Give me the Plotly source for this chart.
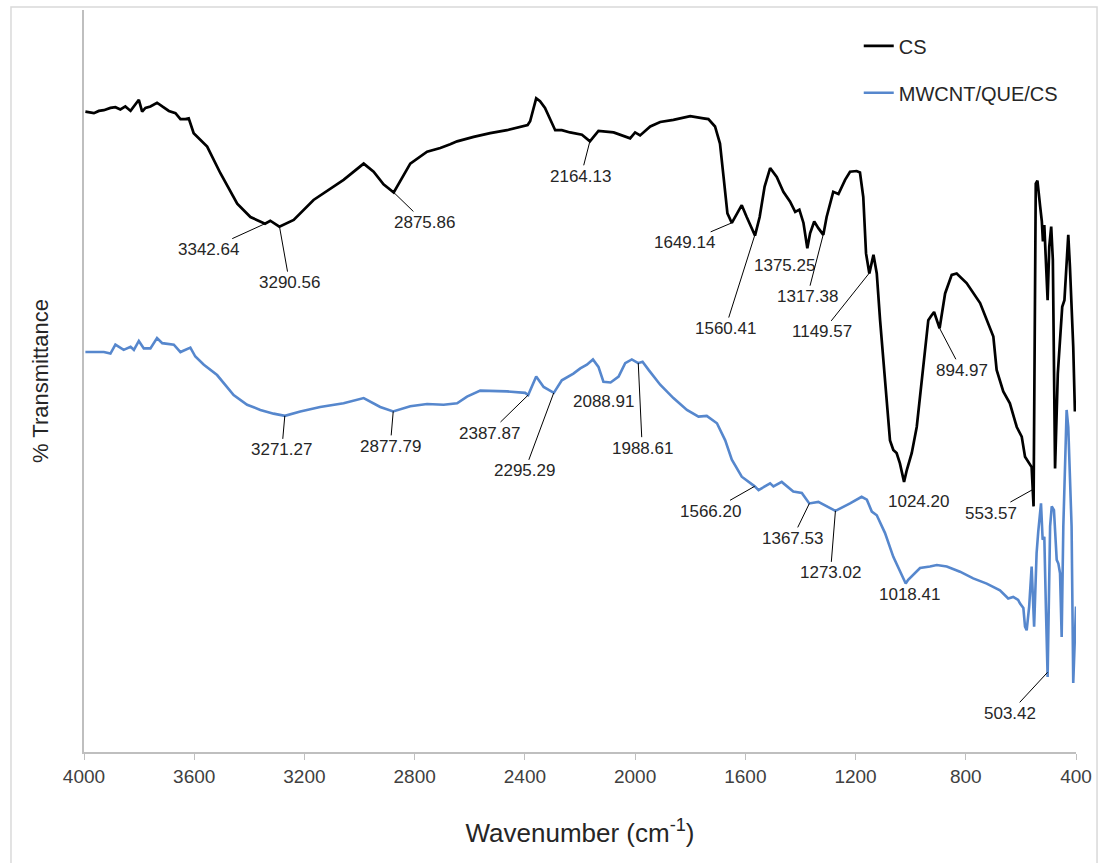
import numpy as np
import plotly.graph_objects as go

# ---------------- data ----------------
cs_wavenumber = [3995, 3964, 3946, 3928, 3904, 3886, 3868, 3850, 3831, 3815, 3801, 3789, 3777, 3759,
                 3735, 3716, 3692, 3668, 3650, 3632, 3620, 3602, 3553, 3505, 3444, 3396, 3343, 3324,
                 3291, 3239, 3167, 3058, 2985, 2949, 2913, 2876, 2816, 2755, 2707, 2671, 2646, 2586,
                 2526, 2465, 2417, 2390, 2381, 2359, 2345, 2327, 2290, 2266, 2236, 2193, 2164, 2133,
                 2078, 2018, 2000, 1982, 1945, 1909, 1861, 1800, 1752, 1734, 1710, 1692, 1679, 1665,
                 1649, 1641, 1613, 1595, 1565, 1548, 1530, 1510, 1486, 1462, 1438, 1419, 1404, 1389,
                 1375, 1365, 1350, 1335, 1317, 1305, 1281, 1262, 1238, 1220, 1196, 1184, 1172, 1162,
                 1150, 1135, 1123, 1111, 1099, 1087, 1075, 1063, 1051, 1039, 1024, 1014, 996, 978,
                 966, 954, 936, 927, 915, 895, 875, 851, 833, 797, 748, 700, 688, 664, 640, 615, 597,
                 585, 573, 561, 554, 546, 540, 534, 530, 524, 520, 515, 509, 503, 497, 490, 484, 476,
                 466, 457, 450, 442, 428, 422, 410, 404]
cs_transmittance = [86.3, 86.1, 86.4, 86.5, 86.8, 86.9, 86.6, 87.0, 86.4, 87.2, 87.9, 86.3, 86.8, 87.0,
                    87.5, 87.0, 86.4, 86.1, 85.3, 85.3, 85.4, 83.4, 81.6, 78.0, 73.9, 72.1, 71.2, 71.6,
                    70.8, 71.7, 74.4, 77.1, 79.3, 78.2, 76.5, 75.4, 79.3, 80.9, 81.4, 81.9, 82.3, 82.9,
                    83.4, 83.8, 84.3, 84.5, 85.0, 88.1, 87.7, 86.8, 83.8, 83.8, 83.5, 83.2, 82.3, 83.7,
                    83.5, 82.7, 83.5, 83.1, 84.3, 84.9, 85.2, 85.7, 85.4, 85.3, 84.3, 82.0, 77.5, 72.6,
                    71.3, 71.8, 73.7, 72.1, 69.6, 72.1, 76.2, 78.7, 77.5, 75.5, 74.2, 72.8, 73.1, 71.3,
                    67.9, 69.9, 71.5, 70.6, 69.7, 72.1, 75.5, 75.2, 77.1, 78.2, 78.3, 78.1, 74.8, 67.2,
                    64.5, 67.0, 64.5, 58.2, 52.4, 47.9, 42.0, 40.7, 40.3, 38.9, 36.4, 38.0, 40.3, 43.8,
                    47.9, 52.4, 58.2, 58.7, 59.3, 57.1, 61.8, 64.3, 64.5, 63.2, 60.5, 56.0, 51.5, 48.6,
                    47.0, 43.8, 42.5, 39.8, 39.1, 38.4, 33.1, 76.6, 77.0, 75.3, 73.5, 71.5, 68.8, 71.0,
                    66.3, 60.9, 68.1, 70.8, 66.3, 38.2, 51.0, 56.4, 60.0, 60.9, 69.7, 65.4, 54.6, 45.9]

comp_wavenumber = [3995, 3928, 3904, 3886, 3856, 3831, 3819, 3801, 3783, 3759, 3735, 3716, 3674, 3650,
                   3614, 3596, 3565, 3517, 3457, 3408, 3360, 3312, 3271, 3215, 3143, 3058, 2985, 2925,
                   2878, 2816, 2755, 2695, 2646, 2610, 2562, 2465, 2399, 2388, 2359, 2332, 2295, 2266,
                   2224, 2199, 2175, 2153, 2133, 2115, 2089, 2060, 2036, 2012, 1989, 1973, 1951, 1909,
                   1861, 1812, 1770, 1740, 1703, 1673, 1649, 1613, 1566, 1552, 1510, 1498, 1468, 1426,
                   1395, 1368, 1335, 1304, 1273, 1220, 1178, 1159, 1141, 1123, 1093, 1063, 1018, 1009,
                   990, 966, 930, 905, 869, 821, 773, 724, 676, 646, 628, 610, 603, 591, 585, 579, 570,
                   561, 552, 543, 537, 527, 521, 515, 509, 503, 494, 488, 480, 470, 464, 458, 452, 446,
                   434, 428, 416, 410, 400]
comp_transmittance = [53.9, 53.9, 53.7, 54.9, 54.2, 54.6, 54.2, 55.4, 54.4, 54.4, 55.8, 55.1, 54.9, 53.9,
                      54.5, 53.3, 52.2, 50.8, 48.1, 46.8, 46.1, 45.6, 45.3, 45.9, 46.5, 47.0, 47.7, 46.5,
                      45.9, 46.6, 46.9, 46.8, 47.0, 47.9, 48.7, 48.6, 48.4, 48.1, 50.6, 49.2, 48.4, 50.1,
                      51.0, 51.7, 52.2, 52.9, 51.9, 49.9, 49.8, 50.6, 52.4, 52.9, 52.4, 52.6, 51.5, 49.5,
                      47.7, 46.1, 45.2, 45.3, 44.3, 42.0, 39.4, 37.1, 35.8, 35.3, 36.2, 35.8, 36.4, 35.1,
                      34.9, 33.5, 33.7, 33.1, 32.5, 33.5, 34.4, 34.0, 32.4, 31.9, 29.5, 26.3, 22.7, 23.2,
                      23.9, 24.8, 25.0, 25.2, 25.0, 24.3, 23.4, 22.7, 21.8, 20.7, 20.9, 20.5, 20.0, 19.4,
                      16.9, 16.4, 19.6, 25.0, 16.9, 26.8, 29.7, 33.5, 28.6, 29.0, 19.1, 10.1, 30.4, 33.1,
                      32.6, 25.9, 25.4, 24.1, 15.5, 30.4, 46.1, 43.8, 30.4, 9.3, 19.6]

series_names = ["CS", "MWCNT/QUE/CS"]

cs_peak_labels = ["3342.64", "3290.56", "2875.86", "2164.13", "1649.14", "1560.41", "1375.25",
                  "1317.38", "1149.57", "1024.20", "894.97", "553.57"]
comp_peak_labels = ["3271.27", "2877.79", "2387.87", "2295.29", "2088.91", "1988.61", "1566.20",
                    "1367.53", "1273.02", "1018.41", "503.42"]

x_tick_values = [4000, 3600, 3200, 2800, 2400, 2000, 1600, 1200, 800, 400]

# ---------------- styling / placement (not data) ----------------
# (dx, dy, leader line?) pixel offsets of each label from its peak
cs_label_pos = [(-57, 26, True), (10, 56, True), (31, 30, True), (-9, 35, True), (-47, 20, True),
                (-31, 98, True), (-23, -18, False), (-16, 62, True), (-47, 59, True),
                (14, -20, False), (22, 42, True), (-43, 24, True)]
comp_label_pos = [(-3, 34, True), (-3, 35, True), (-39, 38, True), (-29, 78, True), (-7, -19, False),
                  (4, 85, True), (-44, 25, True), (-17, 35, True), (-5, 62, True), (4, -11, False),
                  (-38, 41, True)]

BLACK = "#000000"
BLUE = "#5687cd"
AXIS_GRAY = "#bfbfbf"
LABEL_FONT = dict(family="Liberation Sans, Arial, sans-serif", size=17, color="#262626")

fig = go.Figure()
fig.add_trace(go.Scatter(x=cs_wavenumber, y=cs_transmittance, mode="lines", name=series_names[0],
                         line=dict(color=BLACK, width=2.7), legendgroup="g1"))
fig.add_trace(go.Scatter(x=comp_wavenumber, y=comp_transmittance, mode="lines", name=series_names[1],
                         line=dict(color=BLUE, width=2.6), legendgroup="g2"))


def add_labels(labels, positions, wn, tr):
    wn_arr = np.array(wn, dtype=float)[::-1]
    tr_arr = np.array(tr, dtype=float)[::-1]
    for lab, (dx, dy, arrow) in zip(labels, positions):
        xv = float(lab)
        yv = float(np.interp(xv, wn_arr, tr_arr))
        if arrow:
            fig.add_annotation(x=xv, y=yv, text=lab, showarrow=True, ax=dx, ay=dy,
                               arrowhead=0, arrowwidth=1, arrowcolor="#000000", standoff=0,
                               font=LABEL_FONT)
        else:
            fig.add_annotation(x=xv, y=yv, text=lab, showarrow=False, xshift=dx, yshift=dy,
                               font=LABEL_FONT)


add_labels(cs_peak_labels, cs_label_pos, cs_wavenumber, cs_transmittance)
add_labels(comp_peak_labels, comp_label_pos, comp_wavenumber, comp_transmittance)

fig.update_layout(
    width=1104, height=863,
    margin=dict(l=84, r=28, t=10, b=111, autoexpand=False),
    paper_bgcolor="white", plot_bgcolor="white",
    showlegend=True,
    legend=dict(x=0.781, y=0.978, xanchor="left", yanchor="top",
                font=dict(family="Liberation Sans, Arial, sans-serif", size=20, color="#262626"),
                tracegroupgap=18, bgcolor="rgba(0,0,0,0)"),
    xaxis=dict(range=[4000, 400], tickvals=x_tick_values, ticktext=[str(v) for v in x_tick_values],
               ticks="outside", ticklen=6, tickcolor=AXIS_GRAY, tickwidth=1.3, automargin=False,
               showline=True, linecolor=AXIS_GRAY, linewidth=1.5, showgrid=False, zeroline=False,
               tickfont=dict(family="Liberation Sans, Arial, sans-serif", size=19, color="#404040"),
               title=dict(text="Wavenumber (cm<sup>-1</sup>)", standoff=38,
                          font=dict(family="Liberation Sans, Arial, sans-serif", size=26,
                                    color="#262626"))),
    yaxis=dict(range=[0, 100], showticklabels=False, ticks="", showline=True, linecolor=AXIS_GRAY,
               linewidth=1.5, showgrid=False, zeroline=False, automargin=False,
               title=dict(text="% Transmittance", standoff=28,
                          font=dict(family="Liberation Sans, Arial, sans-serif", size=22,
                                    color="#262626"))),
    shapes=[dict(type="rect", xref="paper", yref="paper", x0=-0.0736, x1=1.0212, y0=-0.16, y1=1.004,
                 line=dict(color="#d9d9d9", width=1.5), fillcolor="rgba(0,0,0,0)", layer="below")],
)

fig.write_html("out.html", config={"displayModeBar": False},
               post_script="document.body.style.margin='0px';")
